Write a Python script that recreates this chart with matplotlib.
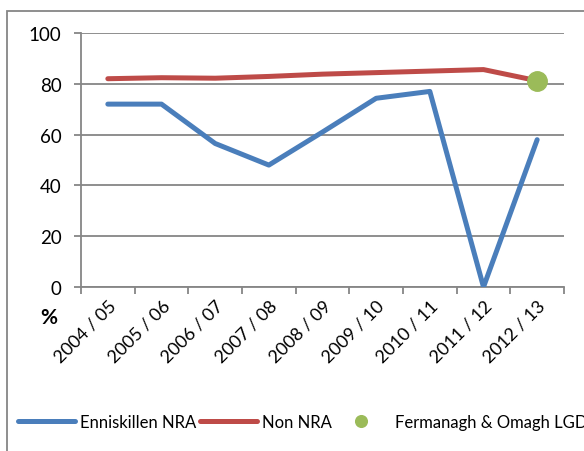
import matplotlib.pyplot as plt
from matplotlib.patches import Rectangle

plt.rcParams['font.family'] = ['Lato', 'DejaVu Sans']

years = ['2004 / 05', '2005 / 06', '2006 / 07', '2007 / 08', '2008 / 09',
         '2009 / 10', '2010 / 11', '2011 / 12', '2012 / 13']
enniskillen = [72, 72, 56.5, 48, 61, 74.3, 77, 0, 58]
non_nra = [82, 82.4, 82.2, 82.9, 83.8, 84.4, 85, 85.6, 81.2]
lgd_x = ['2012 / 13']
lgd = [81]

fig = plt.figure(figsize=(5.84, 4.52), dpi=100)
ax = fig.add_axes([81 / 584, 1 - 288 / 452, 483 / 584, 254 / 452])

x = list(range(len(years)))
h1, = ax.plot(x, enniskillen, color='#4A7EBB', lw=3.6, solid_capstyle='round',
              label='Enniskillen NRA', zorder=3)
h2, = ax.plot(x, non_nra, color='#BE4B48', lw=3.6, solid_capstyle='round',
              label='Non NRA', zorder=3)
h3, = ax.plot([years.index(v) for v in lgd_x], lgd, 'o', color='#9BBB59', ms=14,
              label='Fermanagh & Omagh LGD', zorder=4)

ax.set_xlim(-0.5, len(years) - 0.5)
ax.set_ylim(0, 100)
ax.set_yticks(range(0, 101, 20))
ax.set_xticks([i - 0.5 for i in range(len(years) + 1)], minor=False)
ax.set_xticklabels([])
ax.set_xticks(x, minor=True)
ax.set_xticklabels(years, minor=True, rotation=45, ha='right',
                   rotation_mode='anchor', fontsize=13)
ax.tick_params(axis='x', which='minor', length=0, pad=7)
ax.tick_params(axis='x', which='major', length=5, color='#868686', width=1.3)
ax.tick_params(axis='y', length=5, color='#868686', width=1.3, labelsize=13.5, pad=9)
ax.grid(axis='y', color='#868686', lw=1.3)
ax.set_axisbelow(True)
for s in ['top', 'right']:
    ax.spines[s].set_visible(False)
for s in ['left', 'bottom']:
    ax.spines[s].set_color('#868686')
    ax.spines[s].set_linewidth(1.3)

fig.text(49 / 584, 1 - 318 / 452, '%', fontsize=15, fontweight='bold',
         ha='center', va='center')

fig.patches.append(Rectangle((7 / 584, -0.1), 1.2, 1 - 12 / 452 + 0.1,
                             transform=fig.transFigure, fill=False,
                             ec='#868686', lw=1.3))

# legend items placed one by one, as in the original
legend_y = 1 - 423 / 452
for h, x0 in [(h1, 18), (h2, 200), (h3, 333)]:
    fig.legend(handles=[h], loc='center left', bbox_to_anchor=(x0 / 584, legend_y),
               frameon=False, fontsize=12, handlelength=3.4, handletextpad=0.3,
               borderaxespad=0, borderpad=0, markerscale=0.6)

fig.savefig('out.png', dpi=100)
